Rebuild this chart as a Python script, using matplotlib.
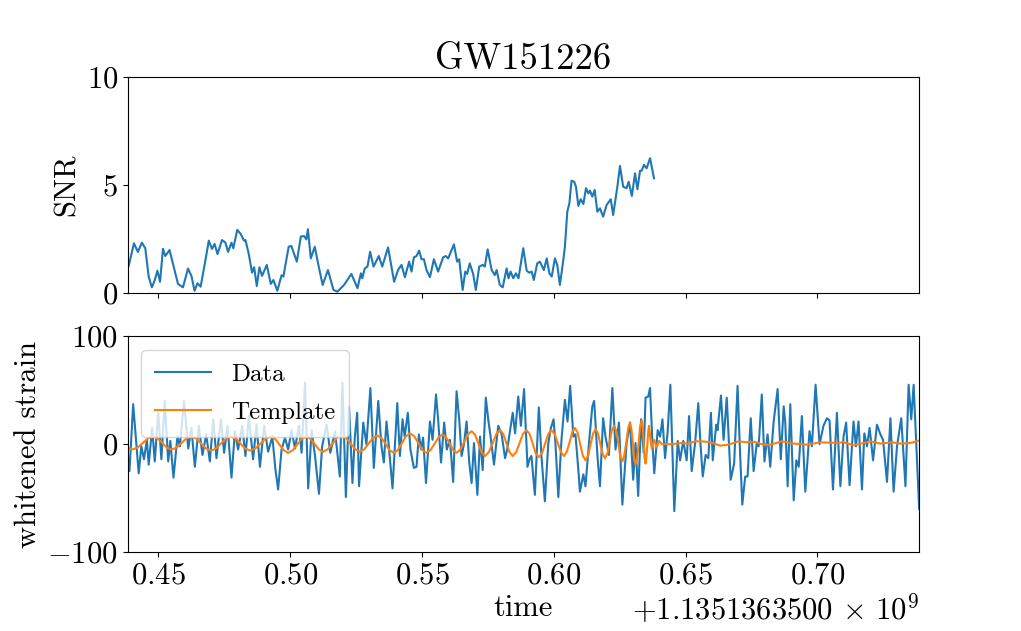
import numpy as np
import matplotlib
matplotlib.use("Agg")
import matplotlib.pyplot as plt

plt.rcParams['font.family'] = 'serif'
plt.rcParams['font.serif'] = ['cmr10']
plt.rcParams['mathtext.fontset'] = 'cm'
plt.rcParams['axes.formatter.use_mathtext'] = True
plt.rcParams['font.size'] = 22

# matched-filter SNR (time relative to 1135136350 s)
snr_time = [0.4387, 0.4407, 0.4422, 0.4437, 0.4450, 0.4463, 0.4475, 0.4486, 0.4496, 0.4506,
            0.4517, 0.4526, 0.4542, 0.4561, 0.4574, 0.4593, 0.4612, 0.4625, 0.4637, 0.4648,
            0.4660, 0.4675, 0.4691, 0.4703, 0.4713, 0.4724, 0.4741, 0.4754, 0.4764, 0.4777,
            0.4784, 0.4799, 0.4812, 0.4825, 0.4830, 0.4842, 0.4855, 0.4863, 0.4873, 0.4883,
            0.4893, 0.4911, 0.4926, 0.4936, 0.4951, 0.4967, 0.4974, 0.4994, 0.5004, 0.5025,
            0.5040, 0.5052, 0.5061, 0.5067, 0.5078, 0.5093, 0.5108, 0.5123, 0.5143, 0.5164,
            0.5179, 0.5204, 0.5232, 0.5255, 0.5268, 0.5273, 0.5283, 0.5293, 0.5303, 0.5316,
            0.5336, 0.5349, 0.5371, 0.5394, 0.5409, 0.5422, 0.5435, 0.5451, 0.5460, 0.5469,
            0.5479, 0.5489, 0.5498, 0.5507, 0.5517, 0.5530, 0.5545, 0.5561, 0.5580, 0.5590,
            0.5599, 0.5621, 0.5633, 0.5641, 0.5654, 0.5664, 0.5671, 0.5681, 0.5694, 0.5704,
            0.5717, 0.5730, 0.5738, 0.5749, 0.5764, 0.5776, 0.5783, 0.5795, 0.5806, 0.5821,
            0.5828, 0.5836, 0.5846, 0.5856, 0.5866, 0.5884, 0.5897, 0.5907, 0.5916, 0.5924,
            0.5937, 0.5947, 0.5962, 0.5973, 0.5983, 0.5992, 0.6004, 0.6013, 0.6023, 0.6036,
            0.6042, 0.6051, 0.6059, 0.6067, 0.6077, 0.6084, 0.6093, 0.6102, 0.6112, 0.6122,
            0.6131, 0.6137, 0.6146, 0.6155, 0.6165, 0.6175, 0.6187, 0.6200, 0.6216, 0.6225,
            0.6241, 0.6251, 0.6263, 0.6276, 0.6284, 0.6296, 0.6308, 0.6317, 0.6327, 0.6333,
            0.6342, 0.6352, 0.6365, 0.6380]
snr_value = [1.25, 2.3, 1.9, 2.33, 2.07, 0.75, 0.26, 0.6, 1.03, 0.52,
             2.04, 1.71, 1.99, 1.06, 0.42, 0.26, 1.13, 0.79, 0.1, 0.45,
             0.29, 1.3, 2.42, 2.04, 2.27, 1.8, 2.45, 2.33, 1.9, 2.33,
             2.07, 2.92, 2.73, 2.42, 2.45, 1.84, 0.94, 1.19, 0.32, 1.19,
             0.79, 1.3, 0.42, 0.6, 0.1, 0.82, 0.76, 2.14, 2.18, 1.45,
             2.61, 2.64, 2.48, 2.95, 1.6, 2.14, 1.22, 0.37, 1.06, 0.14,
             0.06, 0.37, 0.88, 0.22, 0.91, 0.68, 1.14, 1.22, 1.91, 1.22,
             1.71, 1.22, 2.11, 0.52, 1.06, 1.3, 0.73, 1.45, 0.99, 1.65,
             1.71, 1.96, 1.56, 1.56, 1.06, 0.73, 1.56, 0.99, 1.65, 1.71,
             1.6, 2.25, 1.45, 1.56, 0.14, 0.99, 0.88, 1.37, 0.88, 0.14,
             1.22, 1.3, 1.22, 2.02, 1.06, 0.83, 1.06, 0.37, 0.26, 1.14,
             0.68, 0.99, 0.68, 0.91, 0.68, 2.07, 1.03, 0.94, 0.99, 0.6,
             1.37, 1.45, 1.06, 1.6, 0.91, 0.76, 1.6, 1.3, 0.37, 1.53,
             2.14, 3.76, 4.15, 5.2, 5.15, 4.92, 4.03, 4.34, 4.12, 4.85,
             4.61, 4.74, 4.46, 4.77, 3.76, 3.92, 3.53, 4.07, 4.34, 3.61,
             4.92, 5.88, 4.92, 4.85, 5.15, 4.49, 5.54, 4.8, 5.66, 5.66,
             5.93, 5.77, 6.24, 5.31]

# whitened strain data
data_time = [0.4383, 0.4390, 0.4404, 0.4425, 0.4435, 0.4445, 0.4456, 0.4463, 0.4476, 0.4486,
             0.4499, 0.4511, 0.4524, 0.4537, 0.4545, 0.4557, 0.4572, 0.4581, 0.4597, 0.4613,
             0.4625, 0.4638, 0.4653, 0.4667, 0.4681, 0.4695, 0.4708, 0.4720, 0.4737, 0.4749,
             0.4762, 0.4777, 0.4790, 0.4802, 0.4818, 0.4830, 0.4843, 0.4859, 0.4872, 0.4885,
             0.4901, 0.4916, 0.4932, 0.4944, 0.4954, 0.4967, 0.4980, 0.4992, 0.5005, 0.5018,
             0.5033, 0.5043, 0.5056, 0.5068, 0.5081, 0.5094, 0.5109, 0.5121, 0.5138, 0.5152,
             0.5170, 0.5188, 0.5198, 0.5211, 0.5223, 0.5236, 0.5245, 0.5254, 0.5261, 0.5277,
             0.5289, 0.5304, 0.5317, 0.5334, 0.5346, 0.5355, 0.5365, 0.5374, 0.5388, 0.5406,
             0.5416, 0.5426, 0.5434, 0.5446, 0.5456, 0.5469, 0.5479, 0.5488, 0.5496, 0.5504,
             0.5515, 0.5530, 0.5540, 0.5553, 0.5561, 0.5572, 0.5584, 0.5594, 0.5606, 0.5618,
             0.5631, 0.5641, 0.5650, 0.5659, 0.5669, 0.5679, 0.5688, 0.5697, 0.5710, 0.5720,
             0.5730, 0.5742, 0.5751, 0.5760, 0.5773, 0.5789, 0.5802, 0.5815, 0.5823, 0.5844,
             0.5853, 0.5865, 0.5875, 0.5887, 0.5900, 0.5909, 0.5915, 0.5928, 0.5943, 0.5953,
             0.5966, 0.5979, 0.5989, 0.5999, 0.6006, 0.6017, 0.6029, 0.6042, 0.6052, 0.6062,
             0.6074, 0.6082, 0.6093, 0.6099, 0.6112, 0.6120, 0.6133, 0.6146, 0.6153, 0.6166,
             0.6175, 0.6187, 0.6196, 0.6209, 0.6222, 0.6234, 0.6247, 0.6260, 0.6276, 0.6289,
             0.6301, 0.6310, 0.6320, 0.6331, 0.6341, 0.6348, 0.6358, 0.6365, 0.6374, 0.6381,
             0.6394, 0.6403, 0.6412, 0.6422, 0.6432, 0.6442, 0.6457, 0.6470, 0.6479, 0.6491,
             0.6504, 0.6513, 0.6523, 0.6536, 0.6548, 0.6556, 0.6565, 0.6576, 0.6586, 0.6596,
             0.6603, 0.6616, 0.6621, 0.6634, 0.6644, 0.6656, 0.6671, 0.6684, 0.6697, 0.6707,
             0.6715, 0.6726, 0.6735, 0.6747, 0.6758, 0.6770, 0.6777, 0.6789, 0.6799, 0.6811,
             0.6821, 0.6834, 0.6849, 0.6861, 0.6872, 0.6878, 0.6887, 0.6897, 0.6910, 0.6920,
             0.6929, 0.6941, 0.6954, 0.6970, 0.6979, 0.6993, 0.7008, 0.7023, 0.7036, 0.7046,
             0.7059, 0.7074, 0.7087, 0.7099, 0.7109, 0.7122, 0.7137, 0.7146, 0.7156, 0.7169,
             0.7178, 0.7188, 0.7198, 0.7211, 0.7226, 0.7239, 0.7249, 0.7264, 0.7277, 0.7289,
             0.7302, 0.7318, 0.7334, 0.7346, 0.7356, 0.7365, 0.7386]
data_value = [-10, -25, 37, -27, -2, -14, 4, -19, 15, -16,
              29, -14, 40, -16, 3, -31, 7, -2, 40, -4,
              15, -21, 17, -10, 9, -16, 23, -13, 23, -8,
              17, -31, 12, -5, 17, -11, 26, -14, 18, -21,
              17, -7, 7, -24, -42, -5, 6, -5, 13, -4,
              17, -8, 57, -41, 13, -11, -46, -2, 18, -8,
              12, -30, 57, -49, 35, -36, 7, 29, -39, 20,
              0, 52, -22, 40, -2, -17, 21, -2, -41, 38,
              -11, 23, 7, 29, -5, -22, -21, 9, -5, 6,
              -36, 21, 4, 46, 23, -17, 20, -5, 4, -35,
              49, 23, -11, 0, 21, -17, -36, 1, -47, 7,
              -24, 43, 23, 7, -19, 17, 9, -13, -5, 29,
              10, 44, 17, 51, -21, -13, -11, -47, 34, -11,
              -53, 1, 15, 23, 1, -49, 4, 41, 21, 54,
              7, 9, -24, -44, -28, -39, 0, 35, 40, -13,
              -39, 24, 7, -10, 52, -5, 20, -56, 1, 20,
              -33, 1, -48, 23, -8, 43, 44, 52, 1, -27,
              13, 7, 23, -13, 12, 55, -62, 3, -15, 3,
              -15, 26, -25, 1, 38, 1, -30, -10, -13, 29,
              -15, 18, 13, 45, 4, 43, -33, -18, 54, -11,
              -56, -30, -30, 24, -25, 1, -2, 46, -16, 9,
              -21, 21, 51, -14, 35, 20, -39, 37, -52, -15,
              -21, 26, -44, 12, -2, 55, 0, 17, 24, 22,
              -42, 29, -39, 7, 20, -38, 21, -2, 21, -42,
              10, -2, 15, -15, 18, 9, 4, -35, 24, -44,
              -2, 24, -39, 55, 23, 55, -60]

# whitened template
tmpl_time = [0.4383, 0.4400, 0.4420, 0.4440, 0.4460, 0.4480, 0.4497, 0.4515, 0.4532, 0.4549,
             0.4568, 0.4587, 0.4606, 0.4625, 0.4644, 0.4662, 0.4681, 0.4699, 0.4718, 0.4737,
             0.4756, 0.4775, 0.4793, 0.4811, 0.4829, 0.4847, 0.4867, 0.4887, 0.4906, 0.4926,
             0.4943, 0.4959, 0.4976, 0.4992, 0.5009, 0.5026, 0.5043, 0.5060, 0.5076, 0.5093,
             0.5109, 0.5125, 0.5142, 0.5160, 0.5177, 0.5194, 0.5212, 0.5229, 0.5247, 0.5264,
             0.5281, 0.5297, 0.5314, 0.5330, 0.5346, 0.5362, 0.5377, 0.5393, 0.5408, 0.5424,
             0.5439, 0.5454, 0.5470, 0.5486, 0.5501, 0.5517, 0.5532, 0.5548, 0.5563, 0.5578,
             0.5591, 0.5605, 0.5618, 0.5631, 0.5645, 0.5660, 0.5674, 0.5688, 0.5701, 0.5714,
             0.5726, 0.5739, 0.5753, 0.5768, 0.5782, 0.5796, 0.5808, 0.5820, 0.5832, 0.5844,
             0.5857, 0.5870, 0.5883, 0.5896, 0.5908, 0.5920, 0.5931, 0.5943, 0.5955, 0.5967,
             0.5979, 0.5991, 0.6003, 0.6015, 0.6027, 0.6039, 0.6049, 0.6060, 0.6070, 0.6080,
             0.6090, 0.6100, 0.6110, 0.6120, 0.6130, 0.6139, 0.6149, 0.6158, 0.6167, 0.6176,
             0.6185, 0.6194, 0.6203, 0.6212, 0.6220, 0.6229, 0.6237, 0.6245, 0.6252, 0.6260,
             0.6267, 0.6275, 0.6282, 0.6289, 0.6294, 0.6300, 0.6305, 0.6310, 0.6316, 0.6322,
             0.6327, 0.6333, 0.6337, 0.6341, 0.6344, 0.6348, 0.6351, 0.6355, 0.6358, 0.6361,
             0.6366, 0.6371, 0.6381, 0.6390, 0.6399, 0.6410, 0.6447, 0.6485, 0.6510, 0.6536,
             0.6561, 0.6586, 0.6609, 0.6631, 0.6663, 0.6701, 0.6732, 0.6758, 0.6796, 0.6821,
             0.6865, 0.6910, 0.6960, 0.7011, 0.7074, 0.7099, 0.7137, 0.7201, 0.7239, 0.7283,
             0.7315, 0.7353, 0.7386]
tmpl_value = [-3, -5, -3.3, 1, 5.3, 7, 5.3, 1, -3.3, -5,
              -3.3, 1, 5.3, 7, 5.1, 0.5, -4.1, -6, -4.1, 0.5,
              5.1, 7, 5.1, 0.5, -4.1, -6, -4.1, 0.5, 5.1, 7,
              4.8, -0.5, -5.8, -8, -5.8, -0.5, 4.8, 7, 5, 0,
              -5, -7, -4.8, 0.5, 5.8, 8, 5.8, 0.5, -4.8, -7,
              -4.8, 0.5, 5.8, 8, 5.7, 0, -5.7, -8, -5.4, 1,
              7.4, 10, 7.4, 1, -5.4, -8, -5.5, 0.5, 6.5, 9,
              6.5, 0.5, -5.5, -8, -5.1, 2, 9.1, 12, 8.7, 0.5,
              -7.7, -11, -7.5, 1, 9.5, 13, 9.5, 1, -7.5, -11,
              -7.5, 1, 9.5, 13, 9.4, 0.5, -8.4, -12, -8.4, 0.5,
              9.4, 13, 9.5, 1, -7.5, -11, -7.2, 2, 11.2, 15,
              10.7, 0, -10.7, -15, -10.8, -0.5, 9.8, 14, 10.1, 0.5,
              -9.1, -13, -8.7, 2, 12.7, 17, 12.2, 0.5, -11.2, -16,
              -10.8, 2, 14.8, 20, 14.3, 0.5, -13.3, -19, -13, 1.5,
              16, 22, 16.2, 2, -12.2, -18, -12, 0, 12, 17,
              6, -4, 4, -3, 3, 0, 0, 1, 0.5, 2.6,
              2.6, 2, 0.5, -1.4, -0.5, 2.6, 1.7, 2.3, -0.5, -0.5,
              2.6, 0.5, -0.5, 1.7, 1.1, 1.7, -1.1, 2.6, 0.5, 1.7,
              0.5, 1.1, 3.3]

fig, (ax1, ax2) = plt.subplots(2, 1, sharex=True, figsize=(10.21, 6.31), dpi=100)
fig.subplots_adjust(left=0.125, right=0.9, top=0.878, bottom=0.125, hspace=0.2)

ax1.plot(snr_time, snr_value)
ax1.set_ylim(0, 10)
ax1.set_ylabel('SNR')
ax1.set_title('GW151226')

ax2.plot(data_time, data_value, label='Data')
ax2.plot(tmpl_time, tmpl_value, label='Template')
ax2.set_ylim(-100, 100)
ax2.set_xlim(0.4383, 0.7385)
ax2.set_xticks([0.45, 0.50, 0.55, 0.60, 0.65, 0.70])
ax2.set_ylabel('whitened strain')
ax2.set_xlabel('time')
ax2.legend(loc='upper left', fontsize=18, handlelength=2.25, labelspacing=0.6,
           borderpad=0.55, borderaxespad=0.55)
ax2.text(1.0, -0.185, r'$+1.1351363500\,\times\,10^{9}$', transform=ax2.transAxes,
         ha='right', va='top', fontsize=22)

fig.savefig('out.png', dpi=100)
